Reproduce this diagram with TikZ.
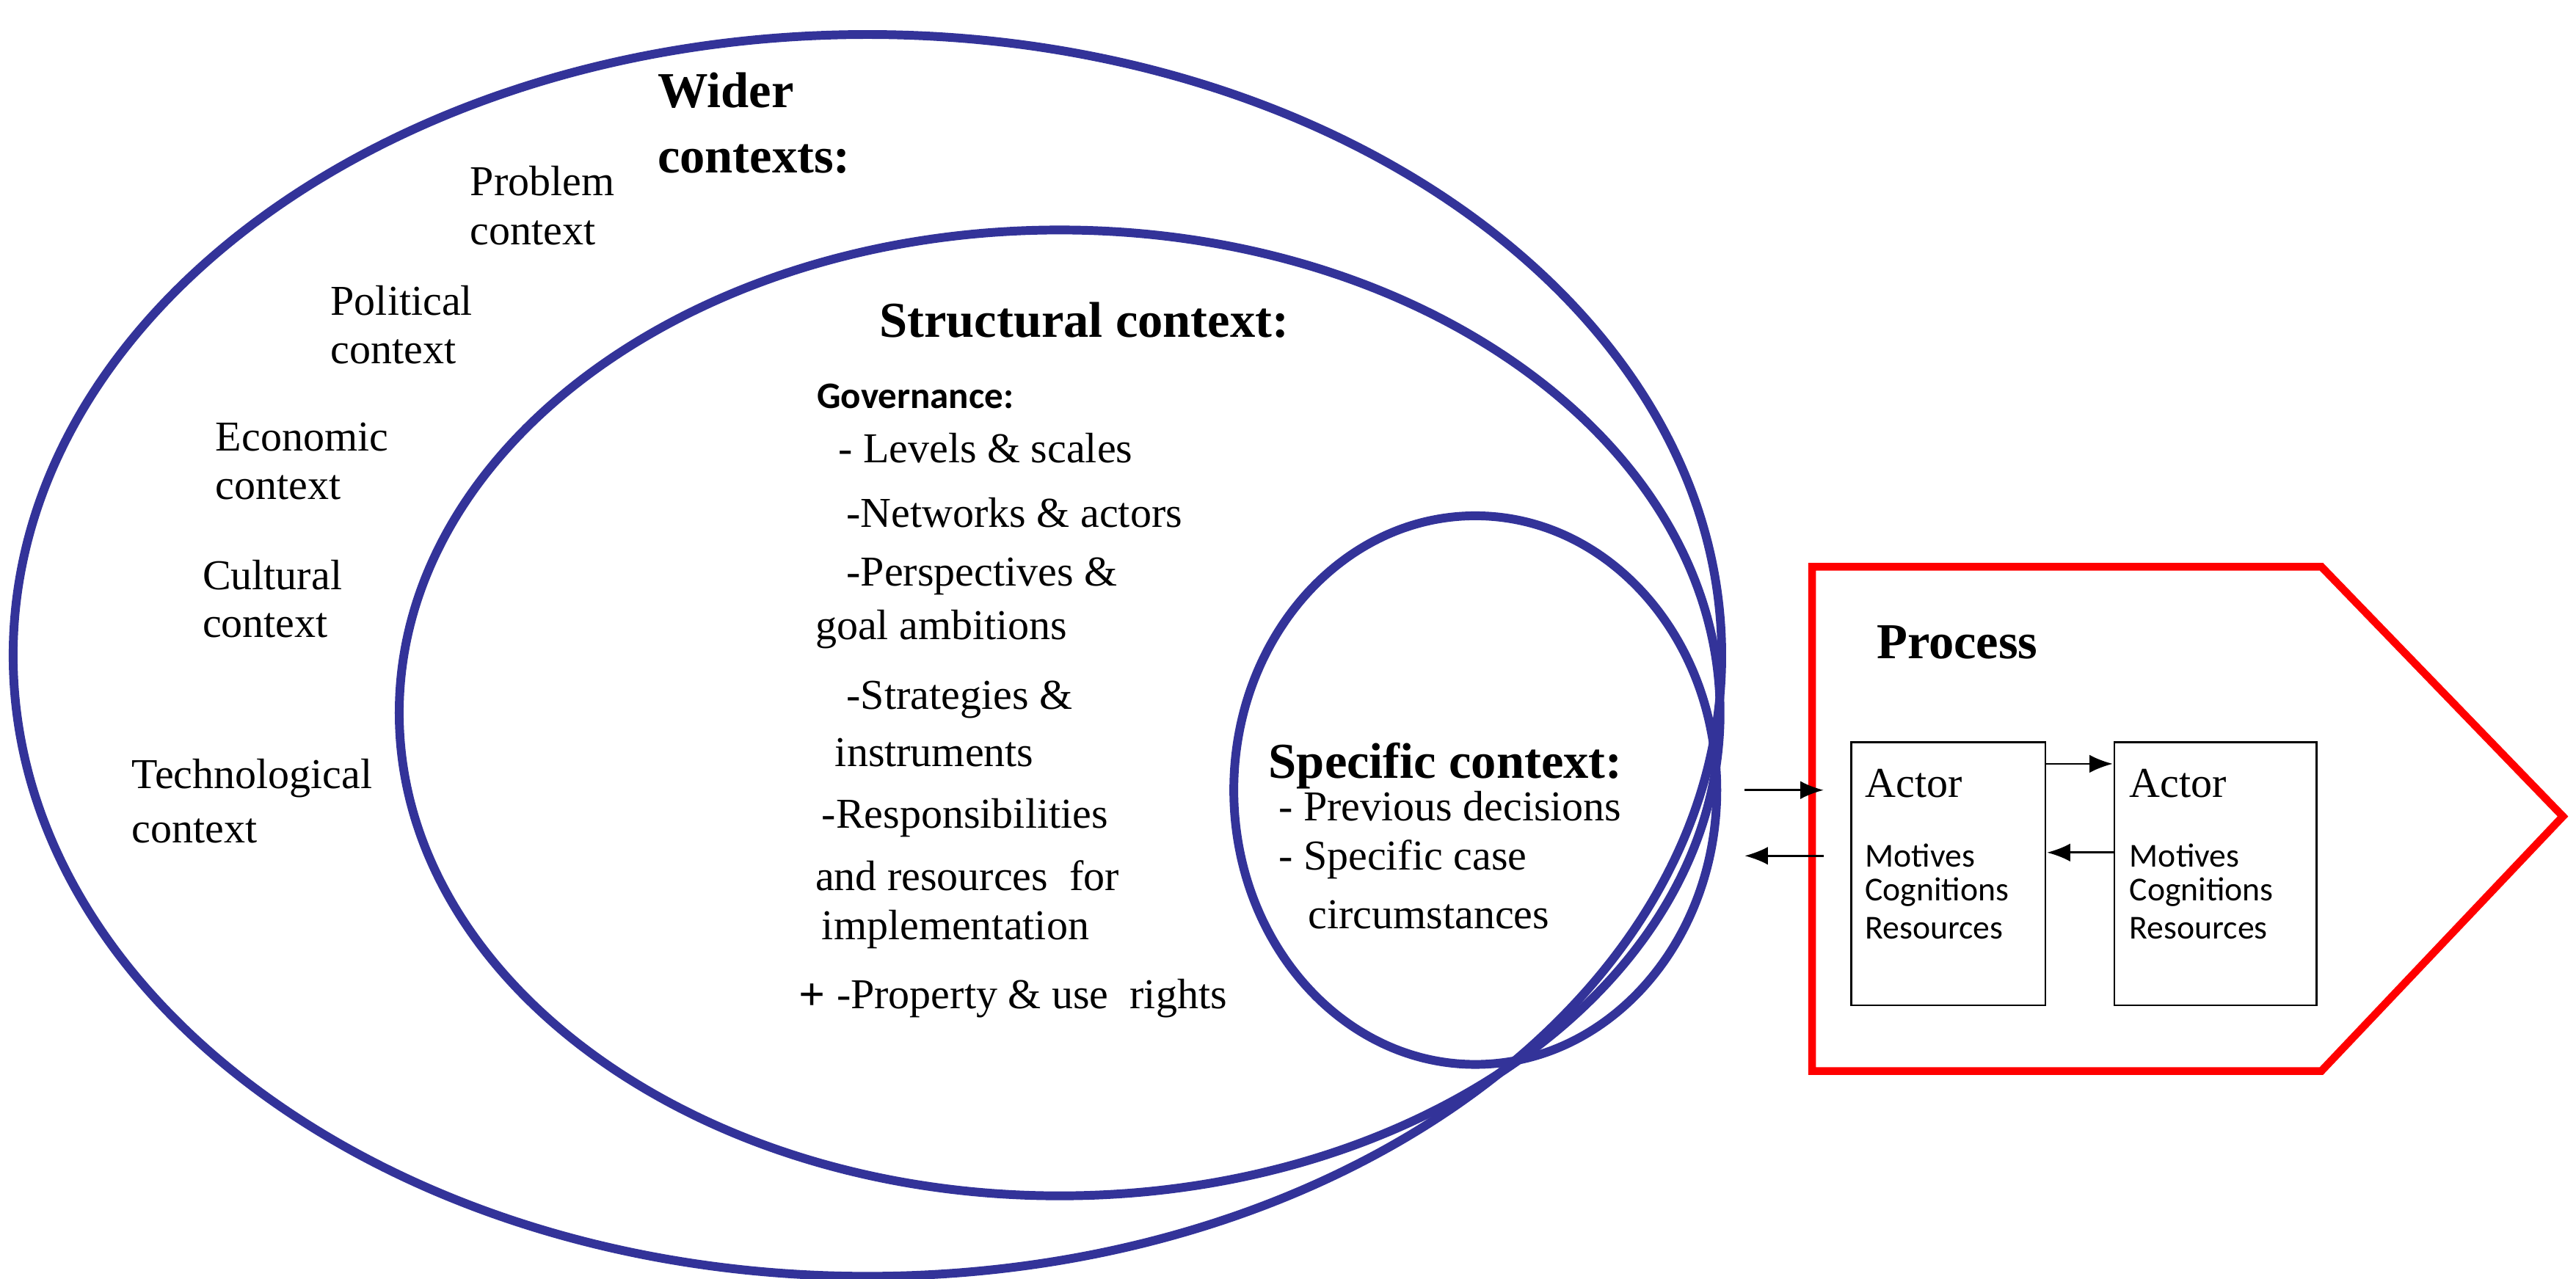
\documentclass[tikz,border=0pt]{standalone}
\usepackage{fontspec}
\setmainfont{Liberation Serif}
\newfontfamily\sansf{Carlito}
\usetikzlibrary{arrows.meta}
\definecolor{ringblue}{RGB}{51,51,153}
\begin{document}
\begin{tikzpicture}[x=0.022385cm, y=-0.022385cm,
  ring/.style={draw=ringblue, line width=3.4pt},
  lbl/.style={anchor=west, inner sep=0pt, font=\fontsize{16.5}{18}\selectfont},
  head/.style={anchor=west, inner sep=0pt, font=\fontsize{19.5}{21}\selectfont\bfseries},
  small/.style={anchor=west, inner sep=0pt, font=\sansf\fontsize{13}{14}\selectfont},
  box/.style={draw, line width=0.8pt},
  tip/.style={-{Latex[length=9pt,width=7pt]}, line width=0.8pt}]
  \useasboundingbox (0,0) rectangle (1568,778.6);

  % context rings
  \draw[ring] (528,399) ellipse [x radius=520, y radius=378];
  \draw[ring] (645,434) ellipse [x radius=402, y radius=294];
  \draw[ring] (898,481) ellipse [x radius=147, y radius=167];

  % process
  \draw[red, line width=3pt] (1103,345) -- (1413,345) -- (1560,497) -- (1413,652) -- (1103,652) -- cycle;
  \draw[box] (1127,452) rectangle (1245,612);
  \draw[box] (1287,452) rectangle (1410,612);

  \node[head] (wider1) at (400,55) {Wider};
  \node[head] (wider2) at (400,97) {contexts:};
  \node[lbl] at (286,110) {Problem};
  \node[lbl] at (286,142) {context};
  \node[lbl] at (201,183) {Political};
  \node[lbl] at (201,214) {context};
  \node[lbl] at (131,266) {Economic};
  \node[lbl] at (131,297) {context};
  \node[lbl] at (123,350) {Cultural};
  \node[lbl] at (123,381) {context};
  \node[lbl] at (80,474) {Technological};
  \node[lbl] at (80,506) {context};

  \node[head] (struct) at (535,195) {Structural context:};
  \node[anchor=west, inner sep=0pt, font=\sansf\fontsize{14.5}{16}\selectfont\bfseries] at (497,241) {Governance:};
  \node[lbl] at (510,273) {- Levels \& scales};
  \node[lbl] at (515,312) {-Networks \& actors};
  \node[lbl] at (515,351) {-Perspectives \&};
  \node[lbl] at (496,383) {goal ambitions};
  \node[lbl] at (515,426) {-Strategies \&};
  \node[lbl] at (508,458) {instruments};
  \node[lbl] at (500,498) {-Responsibilities};
  \node[lbl] at (496,533) {and resources\ \ for};
  \node[lbl] at (500,566) {implementation};
  \node[lbl, font=\fontsize{18}{20}\selectfont\bfseries] at (486,607) {+};
  \node[lbl] at (509,608) {-Property \& use\ \ rights};

  \node[head] (spec) at (772,466) {Specific context:};
  \node[lbl] at (778,491) {- Previous decisions};
  \node[lbl] at (778,523) {- Specific case};
  \node[lbl] at (796,557) {circumstances};

  \node[head] (proc) at (1142,391) {Process};
  \node[lbl] (act1) at (1135,477) {Actor};
  \node[lbl] (act2) at (1296,477) {Actor};
  \foreach \x in {1135,1296} {
    \node[small] at (\x,521) {Motives};
    \node[small] at (\x,543) {Cognitions};
    \node[small] at (\x,565) {Resources};
  }

  % links
  \coordinate (c1) at (1062,481);
  \coordinate (p1) at (1110,481);
  \coordinate (p2) at (1110,521);
  \coordinate (c2) at (1062,521);
  \draw[tip] (c1) -- (p1);
  \draw[tip] (p2) -- (c2);
  \coordinate (a1) at (1245,465);
  \coordinate (b1) at (1286,465);
  \coordinate (b2) at (1287,519);
  \coordinate (a2) at (1246,519);
  \draw[tip] (a1) -- (b1);
  \draw[tip] (b2) -- (a2);
\end{tikzpicture}
\end{document}
